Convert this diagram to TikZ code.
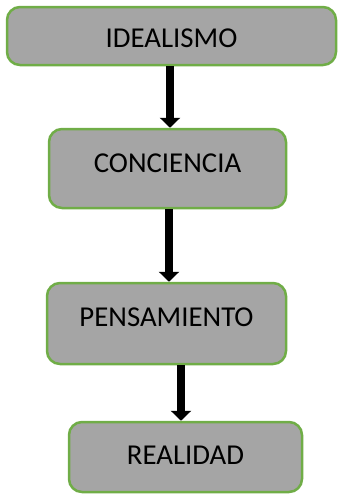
\documentclass[tikz,border=0pt]{standalone}
\usepackage{fontspec}
\setmainfont{Carlito}
\usetikzlibrary{arrows.meta}
\definecolor{cajagris}{HTML}{A5A5A5}
\definecolor{bordeverde}{HTML}{70AD47}
\tikzset{
  caja/.style={draw=bordeverde, fill=cajagris, line width=1.25pt, rounded corners=6.5pt,
    font=\fontsize{14.4}{17}\selectfont},
  flecha/.style={line width=4pt, -{Triangle[width=10pt,length=5pt]}}
}
\begin{document}
\begin{tikzpicture}[x=0.5pt, y=-0.5pt]
    \useasboundingbox (0,0) rectangle (339,494);
    % cajas del esquema
    \node[caja, minimum width=164.5pt, minimum height=29pt, text height=11.3pt] (ide) at (171.5,36) {IDEALISMO};
    \node[caja, minimum width=118.5pt, minimum height=39.5pt, text depth=5.5pt] (con) at (167.5,168.5) {CONCIENCIA};
    \node[caja, minimum width=119.5pt, minimum height=40.5pt, text depth=6.5pt] (pen) at (166.5,323.5) {PENSAMIENTO};
    \node[caja, minimum width=116.5pt, minimum height=35pt, text depth=2pt] (rea) at (185.5,457) {REALIDAD};

    % flechas
    \draw[flecha] (ide.south -| 170,0) -- (con.north -| 170,0);
    \draw[flecha] (con.south -| 169,0) -- (pen.north -| 169,0);
    \draw[flecha] (pen.south -| 181,0) -- (rea.north -| 181,0);
\end{tikzpicture}
\end{document}
